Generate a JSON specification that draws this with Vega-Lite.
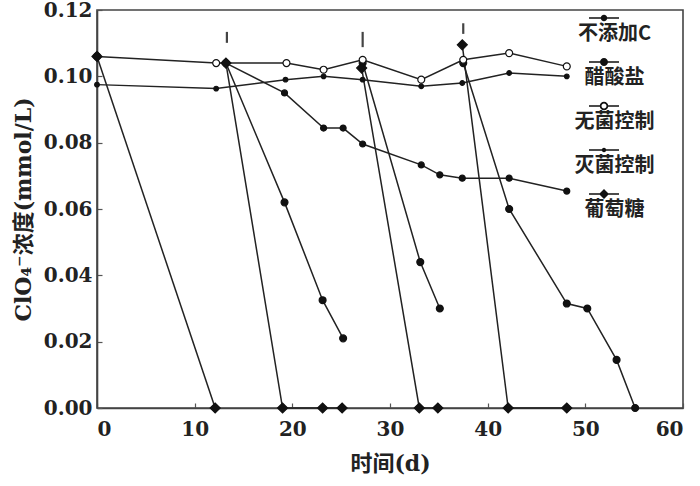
{
  "$schema": "https://vega.github.io/schema/vega-lite/v6.json",
  "width": 586,
  "height": 398,
  "autosize": {"type": "none"},
  "padding": {"left": 97, "top": 10, "right": 17, "bottom": 78},
  "background": "white",
  "config": {
    "view": {"stroke": "#444", "strokeWidth": 1.6},
    "axis": {
      "grid": false,
      "domainColor": "#444",
      "domainWidth": 1.6,
      "tickColor": "#555",
      "tickSize": -5,
      "tickWidth": 1.2,
      "labelFont": "DejaVu Serif",
      "labelFontWeight": "bold",
      "labelFontSize": 20,
      "labelColor": "#222",
      "titleFont": "DejaVu Serif, Noto Sans CJK SC",
      "titleFontWeight": "bold",
      "titleFontSize": 22,
      "titleColor": "#222"
    }
  },
  "datasets": {
    "main": [
      {"series": "不添加C", "seg": 1, "x": 13.2, "y": 0.104},
      {"series": "不添加C", "seg": 1, "x": 19.2, "y": 0.095},
      {"series": "不添加C", "seg": 1, "x": 23.2, "y": 0.0844},
      {"series": "不添加C", "seg": 1, "x": 25.2, "y": 0.0844},
      {"series": "不添加C", "seg": 1, "x": 27.2, "y": 0.0796},
      {"series": "不添加C", "seg": 1, "x": 33.2, "y": 0.0733},
      {"series": "不添加C", "seg": 1, "x": 35.1, "y": 0.0703},
      {"series": "不添加C", "seg": 1, "x": 37.4, "y": 0.0693},
      {"series": "不添加C", "seg": 1, "x": 42.2, "y": 0.0693},
      {"series": "不添加C", "seg": 1, "x": 48.1, "y": 0.0654},

      {"series": "醋酸盐", "seg": 1, "x": 13.2, "y": 0.104},
      {"series": "醋酸盐", "seg": 1, "x": 19.2, "y": 0.062},
      {"series": "醋酸盐", "seg": 1, "x": 23.1, "y": 0.0325},
      {"series": "醋酸盐", "seg": 1, "x": 25.2, "y": 0.021},
      {"series": "醋酸盐", "seg": 2, "x": 27.2, "y": 0.104},
      {"series": "醋酸盐", "seg": 2, "x": 33.1, "y": 0.044},
      {"series": "醋酸盐", "seg": 2, "x": 35.1, "y": 0.030},
      {"series": "醋酸盐", "seg": 3, "x": 37.5, "y": 0.104},
      {"series": "醋酸盐", "seg": 3, "x": 42.2, "y": 0.060},
      {"series": "醋酸盐", "seg": 3, "x": 48.1, "y": 0.0315},
      {"series": "醋酸盐", "seg": 3, "x": 50.2, "y": 0.030},
      {"series": "醋酸盐", "seg": 3, "x": 53.2, "y": 0.0145},
      {"series": "醋酸盐", "seg": 3, "x": 55.1, "y": 0.0},

      {"series": "无菌控制", "seg": 1, "x": 0, "y": 0.106},
      {"series": "无菌控制", "seg": 1, "x": 12.2, "y": 0.104},
      {"series": "无菌控制", "seg": 1, "x": 19.4, "y": 0.104},
      {"series": "无菌控制", "seg": 1, "x": 23.2, "y": 0.102},
      {"series": "无菌控制", "seg": 1, "x": 27.2, "y": 0.105},
      {"series": "无菌控制", "seg": 1, "x": 33.2, "y": 0.099},
      {"series": "无菌控制", "seg": 1, "x": 37.5, "y": 0.105},
      {"series": "无菌控制", "seg": 1, "x": 42.2, "y": 0.107},
      {"series": "无菌控制", "seg": 1, "x": 48.1, "y": 0.103},

      {"series": "灭菌控制", "seg": 1, "x": 0, "y": 0.0975},
      {"series": "灭菌控制", "seg": 1, "x": 12.2, "y": 0.0963},
      {"series": "灭菌控制", "seg": 1, "x": 19.3, "y": 0.099},
      {"series": "灭菌控制", "seg": 1, "x": 23.2, "y": 0.100},
      {"series": "灭菌控制", "seg": 1, "x": 27.2, "y": 0.099},
      {"series": "灭菌控制", "seg": 1, "x": 33.2, "y": 0.097},
      {"series": "灭菌控制", "seg": 1, "x": 37.4, "y": 0.098},
      {"series": "灭菌控制", "seg": 1, "x": 42.2, "y": 0.101},
      {"series": "灭菌控制", "seg": 1, "x": 48.1, "y": 0.100},

      {"series": "葡萄糖", "seg": 1, "x": 0, "y": 0.106},
      {"series": "葡萄糖", "seg": 1, "x": 12.1, "y": 0.0},
      {"series": "葡萄糖", "seg": 2, "x": 13.2, "y": 0.104},
      {"series": "葡萄糖", "seg": 2, "x": 19.0, "y": 0.0},
      {"series": "葡萄糖", "seg": 2, "x": 23.1, "y": 0.0},
      {"series": "葡萄糖", "seg": 2, "x": 25.1, "y": 0.0},
      {"series": "葡萄糖", "seg": 3, "x": 27.1, "y": 0.1025},
      {"series": "葡萄糖", "seg": 3, "x": 33.0, "y": 0.0},
      {"series": "葡萄糖", "seg": 3, "x": 34.9, "y": 0.0},
      {"series": "葡萄糖", "seg": 4, "x": 37.4, "y": 0.1095},
      {"series": "葡萄糖", "seg": 4, "x": 42.1, "y": 0.0},
      {"series": "葡萄糖", "seg": 4, "x": 48.1, "y": 0.0}
    ],
    "arrows": [
      {"x": 13.3, "y1": 0.1134, "y2": 0.1101},
      {"x": 27.2, "y1": 0.1134, "y2": 0.1088},
      {"x": 37.5, "y1": 0.1160, "y2": 0.1128}
    ]
  },
  "resolve": {"scale": {"shape": "independent"}},
  "layer": [
    {
      "data": {"name": "main"},
      "mark": {"type": "line", "stroke": "#222", "strokeWidth": 1.5},
      "encoding": {
        "x": {"field": "x", "type": "quantitative", "title": "时间(d)",
              "scale": {"domain": [0, 60], "nice": false},
              "axis": {"values": [0, 10, 20, 30, 40, 50, 60], "labelPadding": 16, "titlePadding": 14}},
        "y": {"field": "y", "type": "quantitative", "title": "ClO₄⁻浓度(mmol/L)",
              "scale": {"domain": [0, 0.12], "nice": false},
              "axis": {"values": [0, 0.02, 0.04, 0.06, 0.08, 0.1, 0.12], "format": ".2f", "labelPadding": 10, "titlePadding": 8}},
        "detail": [{"field": "series"}, {"field": "seg"}]
      }
    },
    {
      "data": {"name": "main"},
      "mark": {"type": "point", "stroke": "#111", "strokeWidth": 1.2, "opacity": 1},
      "encoding": {
        "x": {"field": "x", "type": "quantitative", "title": "时间(d)"},
        "y": {"field": "y", "type": "quantitative", "title": "ClO₄⁻浓度(mmol/L)"},
        "shape": {
          "field": "series", "type": "nominal",
          "scale": {"domain": ["不添加C", "醋酸盐", "无菌控制", "灭菌控制", "葡萄糖"],
                    "range": ["circle", "circle", "circle", "circle", "diamond"]},
          "legend": null
        },
        "fill": {
          "condition": {"test": "datum.series === '无菌控制'", "value": "white"},
          "value": "#111"
        },
        "size": {
          "condition": [
            {"test": "datum.series === '葡萄糖'", "value": 100},
            {"test": "datum.series === '灭菌控制'", "value": 22},
            {"test": "datum.series === '不添加C'", "value": 36}
          ],
          "value": 48
        }
      }
    },
    {
      "data": {"name": "main"},
      "mark": {"type": "point", "filled": true, "fill": "#111", "stroke": "#222", "strokeWidth": 1, "size": 100, "opacity": 0},
      "encoding": {
        "x": {"field": "x", "type": "quantitative", "title": "时间(d)"},
        "y": {"field": "y", "type": "quantitative", "title": "ClO₄⁻浓度(mmol/L)"},
        "shape": {
          "field": "series", "type": "nominal",
          "scale": {"domain": ["不添加C", "醋酸盐", "无菌控制", "灭菌控制", "葡萄糖"],
                    "range": [
                      "M-3,-0.13H3V0.13H-3ZM0.65,0A0.65,0.65 0 1,1 -0.65,0A0.65,0.65 0 1,1 0.65,0Z",
                      "M-3,-0.13H3V0.13H-3ZM0.8,0A0.8,0.8 0 1,1 -0.8,0A0.8,0.8 0 1,1 0.8,0Z",
                      "M-3,-0.13H-0.8V0.13H-3ZM0.8,-0.13H3V0.13H0.8ZM0.85,0A0.85,0.85 0 1,1 -0.85,0A0.85,0.85 0 1,1 0.85,0ZM0.5,0A0.5,0.5 0 1,0 -0.5,0A0.5,0.5 0 1,0 0.5,0Z",
                      "M-3,-0.13H3V0.13H-3ZM0.45,0A0.45,0.45 0 1,1 -0.45,0A0.45,0.45 0 1,1 0.45,0Z",
                      "M-3,-0.13H3V0.13H-3ZM0,-1L1,0L0,1L-1,0Z"
                    ]},
          "legend": {
            "title": null,
            "orient": "none",
            "legendX": 497,
            "legendY": -2,
            "padding": 0,
            "symbolSize": 100,
            "symbolOpacity": 1,
            "symbolStrokeWidth": 1,
            "symbolStrokeColor": "#222",
            "symbolFillColor": "#111",
            "labelFont": "Noto Sans CJK SC",
            "labelFontWeight": "bold",
            "labelFontSize": 20,
            "labelColor": "#222",
            "labelAlign": "center",
            "labelBaseline": "alphabetic",
            "labelOffset": 0.5,
            "labelExpr": "['', datum.label]",
            "rowPadding": 2
          }
        }
      }
    },
    {
      "data": {"name": "arrows"},
      "mark": {"type": "rule", "stroke": "#444", "strokeWidth": 2.2},
      "encoding": {
        "x": {"field": "x", "type": "quantitative", "title": "时间(d)"},
        "y": {"field": "y1", "type": "quantitative", "title": "ClO₄⁻浓度(mmol/L)"},
        "y2": {"field": "y2"}
      }
    }
  ]
}
